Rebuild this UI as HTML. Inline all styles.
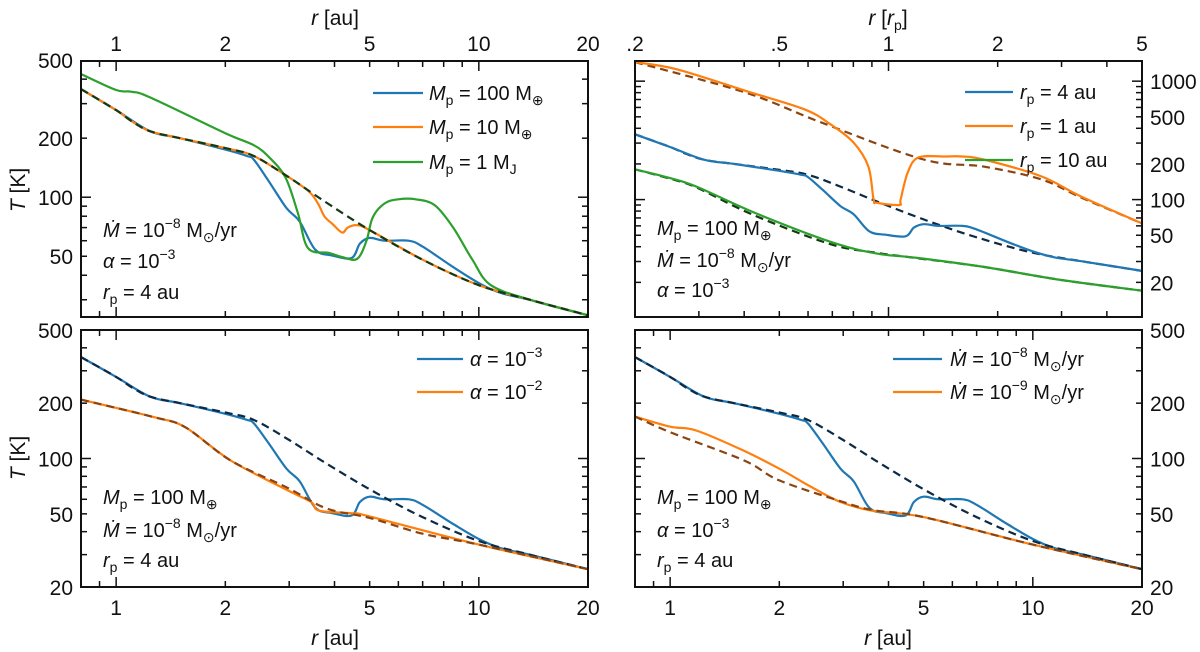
<!DOCTYPE html>
<html><head><meta charset="utf-8"><style>
body{margin:0;background:#fff;}
svg{display:block;font-family:"Liberation Sans",sans-serif;}
</style></head><body>
<svg id="fig" width="1200" height="652" viewBox="0 0 1200 652">
<g id="plots"></g>
<g id="texts" font-size="20" fill="#111">
  <text x="335" y="25" text-anchor="middle" font-size="21"><tspan font-style="italic">r</tspan>  [au]</text>
  <text x="888" y="25" text-anchor="middle" font-size="21"><tspan font-style="italic">r</tspan>  [<tspan font-style="italic">r</tspan><tspan font-size="14" dy="5">p</tspan><tspan dy="-5">]</tspan></text>
  <text x="335" y="645" text-anchor="middle" font-size="21"><tspan font-style="italic">r</tspan>  [au]</text>
  <text x="888" y="645" text-anchor="middle" font-size="21"><tspan font-style="italic">r</tspan>  [au]</text>
  <text transform="translate(25,190) rotate(-90)" text-anchor="middle" font-size="21"><tspan font-style="italic">T</tspan>  [K]</text>
  <text transform="translate(25,458) rotate(-90)" text-anchor="middle" font-size="21"><tspan font-style="italic">T</tspan>  [K]</text>

  <text x="429" y="100"><tspan font-style="italic">M</tspan><tspan font-size="14" dy="5">p</tspan><tspan dy="-5"> = 100 M</tspan><tspan font-size="14" dy="5">⊕</tspan></text>
  <text x="429" y="134"><tspan font-style="italic">M</tspan><tspan font-size="14" dy="5">p</tspan><tspan dy="-5"> = 10 M</tspan><tspan font-size="14" dy="5">⊕</tspan></text>
  <text x="429" y="169"><tspan font-style="italic">M</tspan><tspan font-size="14" dy="5">p</tspan><tspan dy="-5"> = 1 M</tspan><tspan font-size="14" dy="5">J</tspan></text>
  <text x="103" y="237"><tspan font-style="italic">Ṁ</tspan> = 10<tspan font-size="14" dy="-9">−8</tspan><tspan dy="9"> M</tspan><tspan font-size="14" dy="5">⊙</tspan><tspan dy="-5">/yr</tspan></text>
  <text x="103" y="268"><tspan font-style="italic">α</tspan> = 10<tspan font-size="14" dy="-9">−3</tspan></text>
  <text x="103" y="299"><tspan font-style="italic">r</tspan><tspan font-size="14" dy="5">p</tspan><tspan dy="-5"> = 4 au</tspan></text>

  <text x="1020" y="99"><tspan font-style="italic">r</tspan><tspan font-size="14" dy="5">p</tspan><tspan dy="-5"> = 4 au</tspan></text>
  <text x="1020" y="133"><tspan font-style="italic">r</tspan><tspan font-size="14" dy="5">p</tspan><tspan dy="-5"> = 1 au</tspan></text>
  <text x="1020" y="167"><tspan font-style="italic">r</tspan><tspan font-size="14" dy="5">p</tspan><tspan dy="-5"> = 10 au</tspan></text>
  <text x="657" y="235"><tspan font-style="italic">M</tspan><tspan font-size="14" dy="5">p</tspan><tspan dy="-5"> = 100 M</tspan><tspan font-size="14" dy="5">⊕</tspan></text>
  <text x="657" y="267"><tspan font-style="italic">Ṁ</tspan> = 10<tspan font-size="14" dy="-9">−8</tspan><tspan dy="9"> M</tspan><tspan font-size="14" dy="5">⊙</tspan><tspan dy="-5">/yr</tspan></text>
  <text x="657" y="297"><tspan font-style="italic">α</tspan> = 10<tspan font-size="14" dy="-9">−3</tspan></text>

  <text x="470" y="366"><tspan font-style="italic">α</tspan> = 10<tspan font-size="14" dy="-9">−3</tspan></text>
  <text x="470" y="399"><tspan font-style="italic">α</tspan> = 10<tspan font-size="14" dy="-9">−2</tspan></text>
  <text x="103" y="504"><tspan font-style="italic">M</tspan><tspan font-size="14" dy="5">p</tspan><tspan dy="-5"> = 100 M</tspan><tspan font-size="14" dy="5">⊕</tspan></text>
  <text x="103" y="537"><tspan font-style="italic">Ṁ</tspan> = 10<tspan font-size="14" dy="-9">−8</tspan><tspan dy="9"> M</tspan><tspan font-size="14" dy="5">⊙</tspan><tspan dy="-5">/yr</tspan></text>
  <text x="103" y="567"><tspan font-style="italic">r</tspan><tspan font-size="14" dy="5">p</tspan><tspan dy="-5"> = 4 au</tspan></text>

  <text x="950" y="366"><tspan font-style="italic">Ṁ</tspan> = 10<tspan font-size="14" dy="-9">−8</tspan><tspan dy="9"> M</tspan><tspan font-size="14" dy="5">⊙</tspan><tspan dy="-5">/yr</tspan></text>
  <text x="950" y="399"><tspan font-style="italic">Ṁ</tspan> = 10<tspan font-size="14" dy="-9">−9</tspan><tspan dy="9"> M</tspan><tspan font-size="14" dy="5">⊙</tspan><tspan dy="-5">/yr</tspan></text>
  <text x="657" y="504"><tspan font-style="italic">M</tspan><tspan font-size="14" dy="5">p</tspan><tspan dy="-5"> = 100 M</tspan><tspan font-size="14" dy="5">⊕</tspan></text>
  <text x="657" y="537"><tspan font-style="italic">α</tspan> = 10<tspan font-size="14" dy="-9">−3</tspan></text>
  <text x="657" y="567"><tspan font-style="italic">r</tspan><tspan font-size="14" dy="5">p</tspan><tspan dy="-5"> = 4 au</tspan></text>
</g>
</svg>
<script>
// ---- data ----
const baseR = [0.8,1.0,1.1,1.24,1.5,2,2.4,3,3.7,5,7,10,14,20];
const baseT = [356,278,245,217,200,178,162,126,97,68,48,35.6,29.8,25];
const m100R = [0.8,1,1.24,1.5,2,2.3,2.4,2.64,2.95,3.21,3.54,3.93,4.46,4.7,5,5.5,6.4,7,8.5,10,11.5,14,20];
const m100T = [356,278,217,200,175,162,155,120,88,75,54,50.5,49,58,62,60,60,56,44,36.5,32.5,29.8,25];
const m10R = [0.8,1,1.1,1.24,1.5,2,2.4,3,3.4,3.6,3.75,3.95,4.2,4.35,4.6,5,7,10,14,20];
const m10T = [356,278,245,217,200,178,162,126,107,93,80,73,66,70,72,68,48,35.6,29.8,25];
const mjR = [0.8,1,1.1,1.24,2,2.4,2.64,2.93,3.17,3.38,3.86,4.2,4.62,4.9,5.1,5.5,6,6.7,7.56,8.5,9.6,10.8,14,20];
const mjT = [425,352,345,323,212,184,160,126,83,55,52,49.5,48.5,60,79,93,97.6,97.6,91,70,48,35.6,29.8,25];
const rp10R = [0.2,0.25,0.295,0.425,0.692,0.93,1.2,1.83,2.98,5];
const rp10T = [180,152,129,78,44,35,32.2,27,21,17];
const rp10BaseT = [180,150,127,74,42,35.5,32,27,21,17];
const rp1R = [0.2,0.261,0.404,0.585,0.692,0.8,0.88,0.91,0.93,1.07,1.08,1.13,1.21,1.43,1.6,1.83,2.64,3.4,5];
const rp1T = [1450,1260,828,580,432,304,190,100,94,90,100,170,227,231,231,218,157,106,63];
const rp1BaseR = [0.2,0.404,0.65,1.25,1.83,2.64,3.4,5];
const rp1BaseT = [1450,800,450,218,190,148,104,63];
const a2R = [0.8,1.27,1.55,2.07,2.98,3.45,3.63,4.5,5,10,20];
const a2T = [209,168,148,97.5,67,58,52,50.3,48.4,34,25];
const a2BaseR = [0.8,1.27,1.55,2.07,2.98,3.8,5,7,10,20];
const a2BaseT = [209,168,148,97.5,69,53.5,47.5,39,34,25];
const md9R = [0.8,1,1.18,1.6,2,2.45,2.95,3.6,5,10,20];
const md9T = [169,149,142,110,88,70,58,52,48,34,25];
const md9BaseR = [0.8,1,1.6,2,3,3.6,5,10,20];
const md9BaseT = [169,139,97.5,76,58,52.5,48,34,25];
const xLabelsAu = [1,2,5,10,20];
const xLabelsRp = [0.2,0.5,1,2,5];
const yLabelsTop = [50,100,200,500];
const yLabelsTR = [20,50,100,200,500,1000];
const yLabelsBot = [20,50,100,200,500];

const C = {blue:'#1f77b4', orange:'#ff7f0e', green:'#2ca02c', dblue:'#0d2a45', dorange:'#8a4512', dgreen:'#143a14'};
const NS = 'http://www.w3.org/2000/svg';
const plots = document.getElementById('plots');
function mk(tag, attrs, parent){const e=document.createElementNS(NS,tag);for(const k in attrs)e.setAttribute(k,attrs[k]);(parent||plots).appendChild(e);return e;}

function panel(name, x0,x1,y0,y1, xmin,xmax,ymin,ymax){
  const lx0=Math.log10(xmin),lx1=Math.log10(xmax),ly0=Math.log10(ymin),ly1=Math.log10(ymax);
  const g = mk('g',{});
  
  
  const cp = mk('clipPath',{id:name+'-clip'},g);
  mk('rect',{x:x0,y:y0,width:x1-x0,height:y1-y0},cp);
  const sx=v=>x0+(Math.log10(v)-lx0)/(lx1-lx0)*(x1-x0);
  const sy=v=>y1-(Math.log10(v)-ly0)/(ly1-ly0)*(y1-y0);
  const lines = mk('g',{'clip-path':'url(#'+name+'-clip)'},g);
  return {g,lines,sx,sy,x0,x1,y0,y1,xmin,xmax,ymin,ymax};
}
function smoothPath(P){
  let d='M'+P[0][0].toFixed(1)+','+P[0][1].toFixed(1);
  for(let i=0;i<P.length-1;i++){
    const p0=P[Math.max(0,i-1)],p1=P[i],p2=P[i+1],p3=P[Math.min(P.length-1,i+2)];
    const c1=[p1[0]+(p2[0]-p0[0])/6,p1[1]+(p2[1]-p0[1])/6];
    const c2=[p2[0]-(p3[0]-p1[0])/6,p2[1]-(p3[1]-p1[1])/6];
    d+=' C'+c1[0].toFixed(1)+','+c1[1].toFixed(1)+' '+c2[0].toFixed(1)+','+c2[1].toFixed(1)+' '+p2[0].toFixed(1)+','+p2[1].toFixed(1);
  }
  return d;
}
function series(p, R, T, color, dashed, nm){
  const P = R.map((r,i)=>[p.sx(r),p.sy(T[i])]);
  const el = mk('path',{d:smoothPath(P),fill:'none',stroke:color,'stroke-width':2.2,'stroke-linejoin':'round','stroke-linecap':'round'},p.lines);
  if(dashed){el.setAttribute('stroke-dasharray','8,5');el.setAttribute('stroke-linecap','butt');}
  
  
}
function ticks(p, xlab, xlabSide, ylab, ylabSide){
  const ax = mk('g',{stroke:'#111','stroke-width':1.5},p.g);
  for(let d=-1; d<=2; d++){
    for(let m=1;m<=9;m++){
      const v=m*Math.pow(10,d);
      if(v<p.xmin*0.999||v>p.xmax*1.001) continue;
      const x=p.sx(v), L=(m===1)?10:6;
      mk('line',{x1:x,x2:x,y1:p.y0,y2:p.y0+L},ax);
      mk('line',{x1:x,x2:x,y1:p.y1,y2:p.y1-L},ax);
    }
  }
  for(let d=0; d<=3; d++){
    for(let m=1;m<=9;m++){
      const v=m*Math.pow(10,d);
      if(v<p.ymin*0.999||v>p.ymax*1.001) continue;
      const y=p.sy(v), L=(m===1)?10:6;
      mk('line',{y1:y,y2:y,x1:p.x0,x2:p.x0+L},ax);
      mk('line',{y1:y,y2:y,x1:p.x1,x2:p.x1-L},ax);
    }
  }
  mk('rect',{x:p.x0,y:p.y0,width:p.x1-p.x0,height:p.y1-p.y0,fill:'none',stroke:'#111','stroke-width':2},p.g);
  const tg = mk('g',{'font-size':21,fill:'#111'},p.g);
  xlab.forEach(v=>{
    const t=mk('text',{x:p.sx(v),y:xlabSide==='top'?p.y0-10:p.y1+28,'text-anchor':'middle'},tg);
    t.textContent = v<1 ? String(v).replace('0.','.') : String(v);
    
    
  });
  ylab.forEach(v=>{
    const t=mk('text',{x:ylabSide==='left'?p.x0-8:p.x1+8,y:p.sy(v)+8,'text-anchor':ylabSide==='left'?'end':'start'},tg);
    t.textContent = String(v);
    
    
  });
}
function legendLine(x1,x2,y,color,nm){
  const l=mk('line',{x1:x1,x2:x2,y1:y,y2:y,stroke:color,'stroke-width':2.2});
  
  
}

const p1 = panel('panel-planet-mass',81,588,61,317,0.8,20,24.5,495);
series(p1,m100R,m100T,C.blue,false,'line-100-earth');
series(p1,m10R,m10T,C.orange,false,'line-10-earth');
series(p1,mjR,mjT,C.green,false,'line-1-jupiter');
series(p1,baseR,baseT,C.dgreen,true,'line-unperturbed');
ticks(p1,xLabelsAu,'top',yLabelsTop,'left');
legendLine(373,423,93,C.blue,'legend-line-blue');
legendLine(373,423,127,C.orange,'legend-line-orange');
legendLine(373,423,162,C.green,'legend-line-green');

const p2 = panel('panel-planet-position',635,1142,61,317,0.2,5,10.2,1480);
const m100Rrp = m100R.map(r=>r/4), baseRrp = baseR.map(r=>r/4);
series(p2,baseRrp,baseT,C.dblue,true,'line-unperturbed-rp4');
series(p2,rp1BaseR,rp1BaseT,C.dorange,true,'line-unperturbed-rp1');
series(p2,rp10R,rp10BaseT,C.dgreen,true,'line-unperturbed-rp10');
series(p2,m100Rrp,m100T,C.blue,false,'line-rp-4');
series(p2,rp1R,rp1T,C.orange,false,'line-rp-1');
series(p2,rp10R,rp10T,C.green,false,'line-rp-10');
ticks(p2,xLabelsRp,'top',yLabelsTR,'right');
legendLine(965,1013,92,C.blue,'legend-line-blue');
legendLine(965,1013,126,C.orange,'legend-line-orange');
legendLine(965,1013,160,C.green,'legend-line-green');

const p3 = panel('panel-viscosity',81,588,330,587,0.8,20,20,500);
series(p3,m100R,m100T,C.blue,false,'line-alpha-3');
series(p3,a2R,a2T,C.orange,false,'line-alpha-2');
series(p3,baseR,baseT,C.dblue,true,'line-unperturbed-alpha-3');
series(p3,a2BaseR,a2BaseT,C.dorange,true,'line-unperturbed-alpha-2');
ticks(p3,xLabelsAu,'bottom',yLabelsBot,'left');
legendLine(417,463,359,C.blue,'legend-line-blue');
legendLine(417,463,392,C.orange,'legend-line-orange');

const p4 = panel('panel-accretion-rate',635,1142,330,587,0.8,20,20,500);
series(p4,m100R,m100T,C.blue,false,'line-mdot-8');
series(p4,md9R,md9T,C.orange,false,'line-mdot-9');
series(p4,baseR,baseT,C.dblue,true,'line-unperturbed-mdot-8');
series(p4,md9BaseR,md9BaseT,C.dorange,true,'line-unperturbed-mdot-9');
ticks(p4,xLabelsAu,'bottom',yLabelsBot,'right');
legendLine(893,942,359,C.blue,'legend-line-blue');
legendLine(893,942,392,C.orange,'legend-line-orange');
</script>
</body></html>
